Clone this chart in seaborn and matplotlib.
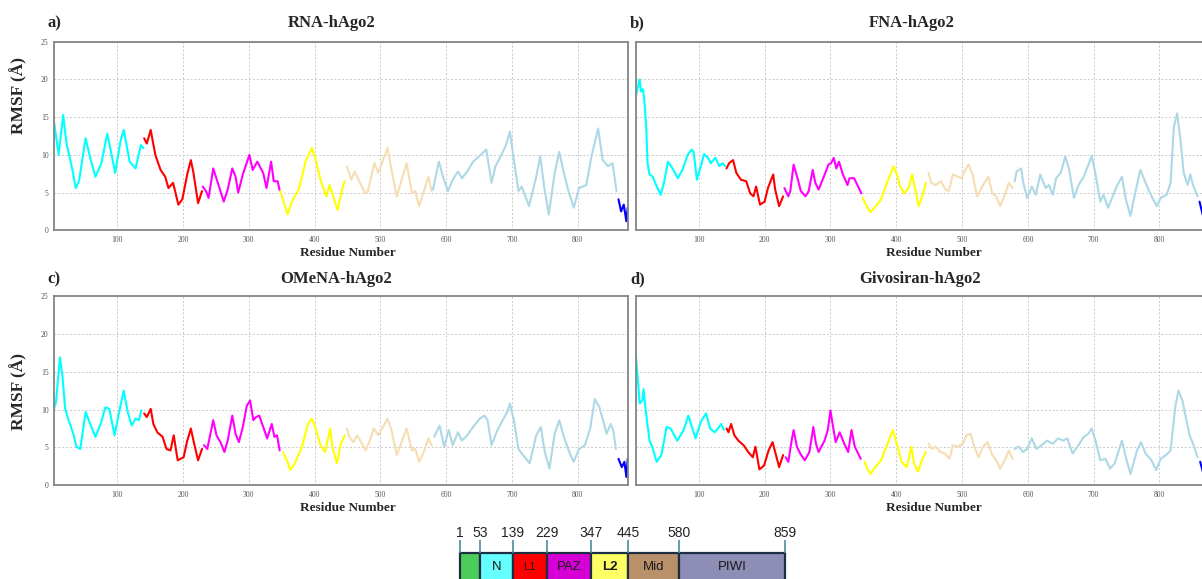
import numpy as np
import pandas as pd
import matplotlib
matplotlib.use("Agg")
import matplotlib.pyplot as plt
import seaborn as sns

# ---------------------------------------------------------------- data
panel_titles = ["RNA-hAgo2", "FNA-hAgo2", "OMeNA-hAgo2", "Givosiran-hAgo2"]
panel_letters = ["a)", "b)", "c)", "d)"]

# RMSF (Å) per residue, sampled along each trajectory profile
rna_res = [4, 11, 18, 23, 28, 32, 37, 42, 52, 59, 67, 76, 85, 89, 97, 105, 110, 119, 128, 136, 140,
           141, 145, 151, 158, 166, 173, 178, 185, 193, 199, 207, 212, 216, 223, 229,
           230, 235, 239, 246, 253, 262, 268, 275, 280, 284, 291, 301, 306, 313, 322, 327, 334, 338, 344, 347,
           348, 359, 367, 376, 387, 396, 401, 409, 418, 423, 435, 443, 446,
           449, 456, 461, 469, 477, 481, 491, 497, 504, 511, 517, 525, 540, 548, 553, 559, 567, 573, 578,
           580, 589, 596, 603, 610, 618, 624, 632, 641, 650, 655, 661, 669, 675, 683, 691, 697, 703, 710,
           715, 726, 737, 743, 749, 756, 765, 772, 779, 786, 794, 802, 813, 821, 831, 838, 846, 853, 859,
           862, 866, 870, 874, 876]
rna_rmsf = [14.4, 10.0, 15.3, 11.5, 9.6, 8.0, 5.6, 6.5, 12.2, 9.6, 7.1, 8.9, 12.8, 11.1, 7.6, 11.8, 13.3, 9.1, 8.2, 11.3, 10.9,
            12.2, 11.5, 13.3, 10.0, 8.0, 7.1, 5.6, 6.3, 3.4, 4.1, 7.6, 9.3, 7.6, 3.6, 5.2,
            5.8, 5.2, 4.3, 8.2, 6.3, 3.8, 5.4, 8.2, 7.1, 5.0, 7.4, 10.0, 8.0, 9.1, 7.6, 5.6, 9.1, 6.5, 6.5, 5.3,
            5.2, 2.1, 4.1, 5.4, 9.3, 10.9, 9.6, 6.7, 4.5, 6.0, 2.7, 5.8, 6.5,
            8.5, 6.7, 7.8, 6.3, 4.9, 5.2, 8.9, 7.6, 9.3, 10.9, 8.0, 4.5, 8.9, 4.9, 5.2, 3.2, 5.4, 7.1, 5.2,
            5.4, 9.1, 6.9, 5.2, 6.7, 7.8, 6.9, 7.8, 9.1, 9.8, 10.2, 10.7, 6.3, 8.5, 9.8, 11.3, 13.1, 9.3, 5.2,
            5.8, 3.2, 7.1, 9.8, 5.8, 2.1, 7.6, 10.4, 7.6, 5.2, 3.0, 5.6, 6.0, 9.8, 13.5, 9.3, 8.5, 8.9, 5.2,
            4.1, 2.5, 3.4, 1.2, 3.0]

fna_res = [4, 10, 12, 15, 17, 20, 22, 25, 30, 34, 42, 47, 53, 60, 68, 75, 83, 89, 92, 97, 103, 108, 114, 118, 125, 131, 136, 140,
           142, 146, 152, 157, 164, 172, 178, 183, 187, 193, 200, 205, 213, 216, 222, 228,
           230, 236, 239, 244, 250, 255, 262, 267, 273, 277, 282, 289, 297, 301, 305, 309, 313, 319, 326, 329, 336, 341, 347,
           349, 355, 361, 369, 377, 386, 396, 401, 405, 412, 419, 424, 429, 434, 441, 445,
           449, 453, 460, 468, 475, 480, 486, 494, 499, 505, 510, 516, 523, 532, 540, 546, 552, 558, 566, 571, 577,
           580, 583, 590, 593, 599, 606, 612, 619, 627, 632, 638, 643, 650, 657, 663, 670, 677, 685, 693, 697, 703,
           710, 715, 722, 735, 743, 749, 756, 762, 771, 779, 787, 796, 802, 811, 817, 822, 827, 832, 837, 843, 847, 851, 858,
           861, 866]
fna_rmsf = [17.7, 20.0, 18.4, 18.7, 17.3, 13.7, 8.9, 7.4, 7.1, 6.2, 4.7, 6.3, 9.1, 8.2, 6.9, 8.0, 10.0, 10.7, 10.4, 6.7, 8.5, 10.1, 9.6, 8.9, 9.6, 8.5, 8.9, 8.5,
            8.2, 8.9, 9.3, 7.6, 6.7, 6.5, 4.9, 4.5, 5.8, 3.4, 3.8, 5.6, 7.4, 5.4, 3.2, 4.5,
            5.6, 4.5, 5.2, 8.7, 6.9, 5.2, 4.5, 5.2, 8.0, 6.3, 5.4, 6.9, 8.7, 8.9, 9.6, 8.2, 9.1, 7.4, 6.0, 6.9, 6.9, 6.0, 4.9,
            4.3, 3.2, 2.4, 3.2, 4.1, 6.3, 8.5, 7.4, 6.0, 4.9, 5.6, 7.4, 5.4, 3.2, 4.9, 6.3,
            7.6, 6.3, 6.0, 6.5, 5.4, 5.2, 7.4, 7.1, 6.9, 8.0, 8.7, 7.4, 4.5, 6.0, 7.1, 4.9, 4.5, 3.2, 4.9, 6.3, 5.6,
            6.5, 7.8, 8.2, 6.3, 4.3, 5.8, 4.7, 7.4, 5.6, 6.0, 4.7, 6.9, 7.6, 9.8, 8.0, 4.3, 6.0, 7.1, 8.9, 9.9, 7.4,
            3.8, 4.7, 3.0, 5.8, 7.1, 4.1, 1.9, 4.5, 8.0, 6.3, 4.7, 3.2, 4.3, 4.7, 6.3, 13.7, 15.5, 12.0, 7.6, 6.0, 7.4, 6.0, 4.5,
            3.8, 2.0]

omena_res = [4, 7, 13, 17, 21, 26, 30, 34, 38, 44, 52, 59, 67, 76, 82, 88, 96, 103, 110, 116, 122, 128, 133, 137,
             141, 145, 151, 155, 161, 169, 175, 181, 186, 192, 201, 206, 212, 217, 223, 229,
             232, 237, 246, 251, 257, 263, 268, 275, 280, 285, 291, 297, 302, 307, 311, 316, 322, 328, 335, 339, 343, 347,
             352, 359, 363, 370, 381, 390, 396, 401, 409, 416, 424, 427, 434, 440, 446,
             449, 453, 459, 465, 472, 478, 484, 490, 497, 504, 511, 517, 525, 540, 548, 553, 559, 566, 573, 578,
             582, 590, 597, 604, 610, 618, 624, 632, 641, 651, 658, 663, 669, 678, 686, 693, 697, 703, 710,
             715, 727, 737, 744, 750, 757, 765, 772, 779, 788, 794, 802, 811, 819, 826, 833, 840, 844, 850, 854, 858,
             862, 867, 871, 874, 876]
omena_rmsf = [10.1, 11.0, 16.9, 14.3, 10.1, 8.6, 7.7, 6.6, 5.1, 4.8, 9.7, 8.1, 6.4, 8.4, 10.3, 10.1, 6.6, 9.7, 12.5, 9.7, 7.9, 8.8, 8.6, 9.9,
              9.5, 9.0, 10.1, 8.1, 7.0, 6.4, 4.8, 4.6, 6.6, 3.3, 3.7, 5.7, 7.5, 5.5, 3.3, 4.8,
              5.3, 4.8, 8.6, 6.6, 5.7, 4.4, 5.9, 9.2, 6.8, 5.7, 7.7, 10.5, 11.2, 8.6, 9.0, 9.2, 7.7, 6.2, 8.1, 6.4, 6.6, 4.6,
              4.4, 3.1, 2.0, 2.9, 5.1, 8.1, 8.8, 7.7, 5.3, 4.4, 7.5, 5.1, 2.9, 5.5, 6.6,
              7.5, 6.4, 5.7, 6.6, 5.5, 4.6, 5.9, 7.5, 6.6, 7.7, 8.8, 7.3, 4.0, 7.5, 4.6, 4.8, 3.1, 4.4, 6.2, 5.3,
              6.4, 7.9, 5.1, 7.3, 5.3, 7.0, 5.9, 6.6, 7.7, 8.8, 9.2, 8.6, 5.3, 7.3, 8.6, 9.7, 10.8, 8.6, 4.8,
              4.2, 2.9, 6.6, 7.7, 4.4, 2.2, 6.8, 8.6, 6.4, 4.2, 3.1, 4.8, 5.3, 7.5, 11.4, 10.3, 8.1, 6.8, 8.1, 7.3, 4.8,
              3.5, 2.4, 3.1, 1.1, 3.5]

givo_res = [4, 7, 10, 14, 16, 18, 21, 25, 29, 36, 43, 51, 57, 67, 77, 84, 88, 95, 103, 111, 117, 124, 129, 134, 138,
            142, 145, 149, 154, 160, 168, 175, 182, 186, 192, 199, 206, 212, 216, 222, 228,
            232, 236, 241, 244, 249, 254, 261, 268, 274, 278, 282, 291, 296, 300, 304, 308, 314, 321, 327, 332, 337, 341, 346,
            352, 356, 361, 368, 377, 385, 395, 402, 408, 416, 423, 427, 433, 439, 445,
            449, 454, 460, 467, 474, 481, 486, 493, 501, 507, 513, 518, 525, 532, 539, 546, 552, 558, 566, 571, 577,
            580, 586, 593, 599, 606, 613, 621, 629, 638, 646, 654, 660, 668, 677, 685, 692, 697, 703,
            710, 718, 725, 732, 743, 749, 756, 766, 772, 779, 788, 795, 802, 810, 817, 824, 829, 835, 841, 846, 852, 858,
            862, 866]
givo_rmsf = [17.4, 14.3, 10.8, 11.2, 12.7, 10.8, 8.6, 5.9, 5.1, 3.1, 4.0, 7.7, 7.5, 5.9, 7.3, 9.2, 8.1, 6.2, 8.4, 9.5, 7.5, 7.0, 7.5, 8.1, 7.3,
             7.5, 7.0, 8.1, 6.6, 5.9, 5.3, 4.4, 3.7, 5.1, 2.1, 2.6, 4.6, 5.7, 4.4, 2.4, 4.0,
             3.7, 3.1, 5.9, 7.3, 5.1, 4.2, 3.3, 4.4, 7.7, 5.5, 4.4, 5.9, 7.3, 9.9, 7.7, 5.7, 7.0, 5.5, 4.4, 7.3, 5.1, 4.4, 3.5,
             3.1, 2.2, 1.5, 2.4, 3.3, 5.1, 7.3, 5.1, 3.1, 2.4, 5.1, 2.9, 1.8, 3.3, 4.4,
             5.5, 4.8, 5.1, 4.4, 4.2, 3.5, 5.3, 5.1, 5.5, 6.6, 6.8, 5.3, 3.7, 5.1, 5.7, 4.0, 3.3, 2.2, 3.5, 4.6, 3.5,
             4.8, 5.1, 4.4, 4.8, 6.2, 4.8, 5.3, 5.9, 5.5, 6.2, 5.9, 6.2, 4.2, 5.3, 6.4, 6.8, 7.5, 5.9,
             3.3, 3.5, 2.2, 2.9, 5.9, 3.7, 1.5, 4.6, 5.7, 4.2, 3.3, 2.0, 3.5, 4.0, 4.6, 10.3, 12.5, 11.2, 8.6, 6.6, 5.3, 3.7,
             3.1, 1.8]

panel_res = [rna_res, fna_res, omena_res, givo_res]
panel_rmsf = [rna_rmsf, fna_rmsf, omena_rmsf, givo_rmsf]

# domain colouring of the profile (residue ranges)
domain_names = ["N", "L1", "PAZ", "L2", "Mid", "PIWI", "C-term"]
domain_colors = ["cyan", "red", "magenta", "yellow", "wheat", "lightblue", "blue"]
domain_edges = [140.5, 229.5, 347.5, 446.5, 579.5, 859.5]

# domain map below the panels
map_bounds = [1, 53, 139, 229, 347, 445, 580, 859]
map_labels = ["", "N", "L1", "PAZ", "L2", "Mid", "PIWI"]
map_colors = ["#4ccd5a", "#66ffff", "#ff0000", "#d600d6", "#ffff66", "#b8916b", "#8d8db5"]

y_ticks = [0, 5, 10, 15, 20, 25]
x_ticks = [100, 200, 300, 400, 500, 600, 700, 800]

# ---------------------------------------------------------------- style
sns.set_style("whitegrid")
plt.rcParams["font.family"] = ["Liberation Serif", "DejaVu Serif"]

W, H = 1202, 579
fig = plt.figure(figsize=(W / 100, H / 100), dpi=100)


def px_box(left, top, width, height):
    return [left / W, 1 - (top + height) / H, width / W, height / H]


panel_boxes = [px_box(54, 41.7, 573.7, 188.6), px_box(635.7, 41.7, 573.7, 188.6),
               px_box(54, 296.0, 573.7, 189.3), px_box(635.7, 296.0, 573.7, 189.3)]
palette = dict(zip(domain_names, domain_colors))

for i in range(4):
    ax = fig.add_axes(panel_boxes[i])
    res = np.asarray(panel_res[i])
    df = pd.DataFrame({
        "residue": res,
        "rmsf": panel_rmsf[i],
        "domain": [domain_names[k] for k in np.digitize(res, domain_edges)],
    })
    sns.lineplot(data=df, x="residue", y="rmsf", hue="domain", hue_order=domain_names,
                 palette=palette, estimator=None, legend=False, linewidth=1.5, ax=ax)
    ax.set_xlim(4, 876)
    ax.set_ylim(0, 25)
    ax.set_xticks(x_ticks)
    ax.set_yticks(y_ticks)
    ax.grid(True, linestyle=(0, (2, 2)), color="#c9c9c9", linewidth=0.7)
    ax.set_axisbelow(True)
    for sp in ax.spines.values():
        sp.set_color("#858585")
        sp.set_linewidth(1.3)
    ax.tick_params(axis="both", labelsize=5.5, labelcolor="#555555", length=1.5,
                   color="#858585", pad=2.5)
    if i % 2 == 1:
        ax.set_yticklabels([])
        ax.tick_params(axis="y", length=0)
    ax.set_ylabel("")
    ax.set_xlabel("")

    col = i % 2
    row = i // 2
    x_title = [332, 912][col] if row == 0 else [336, 920][col]
    y_base = [27, 283][row]
    fig.text(x_title / W, 1 - y_base / H, panel_titles[i], ha="center", va="baseline",
             fontsize=12, fontweight="bold")
    fig.text([47, 630][col] / W, 1 - y_base / H, panel_letters[i], ha="left",
             va="baseline", fontsize=12, fontweight="bold")
    fig.text([348, 934][col] / W, 1 - [253, 508][row] / H, "Residue Number",
             ha="center", va="center", fontsize=9.5, fontweight="bold")
    if col == 0:
        fig.text(19 / W, 1 - [96, 391][row] / H, "RMSF (Å)", rotation=90,
                 ha="center", va="center", fontsize=12.5, fontweight="bold")

# ---------------------------------------------------------------- domain map
bar_ax = fig.add_axes(px_box(460.3, 520, 324.7, 59))
bar_ax.set_xlim(map_bounds[0], map_bounds[-1])
bar_ax.set_ylim(0, 59)
bar_ax.axis("off")
starts = map_bounds[:-1]
widths = np.diff(map_bounds)
bar_ax.barh(y=8, width=widths, left=starts, height=36, color=map_colors,
            edgecolor="#1c2e40", linewidth=1.6, clip_on=False)
bar_ax.vlines(map_bounds, 26, 39, color="#4f8aa0", linewidth=1.2, clip_on=False)
for b in map_bounds:
    bar_ax.text(b, 46, str(b), ha="center", va="center", fontsize=10,
                family=["Liberation Sans", "DejaVu Sans"], color="#222222", clip_on=False)
for s, w, lab in zip(starts, widths, map_labels):
    if not lab:
        continue
    bar_ax.text(s + w / 2, 12.5, lab, ha="center", va="center",
                fontsize=8 if lab == "L1" else 9.5,
                fontweight="bold" if lab == "L2" else "normal",
                family=["Liberation Sans", "DejaVu Sans"], color="#1a1a1a", clip_on=False)

fig.savefig("out.png", dpi=100)
